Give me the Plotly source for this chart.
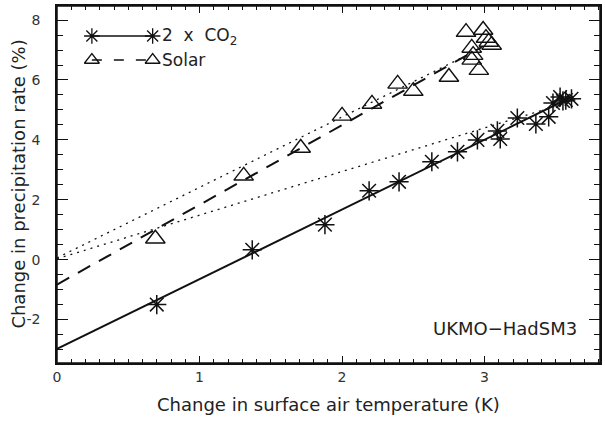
import plotly.graph_objects as go

# ---- data ----
co2_dT = [0.70, 1.37, 1.88, 2.19, 2.40, 2.63, 2.81, 2.95, 3.09, 3.11, 3.23, 3.36, 3.45, 3.48, 3.53, 3.57, 3.61, 3.55]
co2_dP = [-1.50, 0.33, 1.17, 2.30, 2.60, 3.27, 3.60, 4.00, 4.30, 4.03, 4.73, 4.53, 4.77, 5.23, 5.43, 5.33, 5.37, 5.30]

sol_dT = [0.69, 1.31, 1.71, 2.00, 2.21, 2.39, 2.50, 2.75, 2.87, 2.99, 3.01, 3.03, 3.05, 2.91, 2.92, 2.91, 2.96]
sol_dP = [0.70, 2.80, 3.73, 4.80, 5.20, 5.87, 5.63, 6.10, 7.60, 7.67, 7.40, 7.27, 7.17, 7.07, 6.83, 6.67, 6.33]

co2_fit_x = [0.0, 3.62]
co2_fit_y = [-2.98, 5.45]
sol_fit_x = [0.0, 2.98]
sol_fit_y = [-0.83, 7.10]
dot_hi_x = [0.0, 2.95]
dot_hi_y = [0.06, 7.00]
dot_lo_x = [0.0, 3.55]
dot_lo_y = [0.03, 5.20]

x_ticks = [0, 1, 2, 3]
y_ticks = [-2, 0, 2, 4, 6, 8]
y_ticktext = ["-2", "0", "2", "4", "6", "8"]

X_RANGE = [0, 3.81]
Y_RANGE = [-3.45, 8.47]

# ---- layout constants (pixels) ----
W, H = 605, 421
ML, MR, MT, MB = 57, 3, 6, 58
PW, PH = W - ML - MR, H - MT - MB


def px_to_x(px):
    return X_RANGE[0] + (px - ML) / PW * (X_RANGE[1] - X_RANGE[0])


def py_to_y(py):
    return Y_RANGE[1] - (py - MT) / PH * (Y_RANGE[1] - Y_RANGE[0])


FONT = "DejaVu Sans"
INK = "#111111"
TXT = "#222222"

fig = go.Figure()

fig.add_trace(go.Scatter(x=dot_hi_x, y=dot_hi_y, mode="lines",
                         line=dict(color=INK, width=1.3, dash="2px,5px"), showlegend=False))
fig.add_trace(go.Scatter(x=dot_lo_x, y=dot_lo_y, mode="lines",
                         line=dict(color=INK, width=1.3, dash="2px,5px"), showlegend=False))
fig.add_trace(go.Scatter(x=sol_fit_x, y=sol_fit_y, mode="lines",
                         line=dict(color=INK, width=2, dash="14px,10px"), showlegend=False))
fig.add_trace(go.Scatter(x=co2_fit_x, y=co2_fit_y, mode="lines",
                         line=dict(color=INK, width=2), showlegend=False))
fig.add_trace(go.Scatter(x=sol_dT, y=sol_dP, mode="markers",
                         marker=dict(symbol="triangle-up-open", size=17, color=INK,
                                     line=dict(color=INK, width=1.4)), showlegend=False))
fig.add_trace(go.Scatter(x=co2_dT, y=co2_dP, mode="markers",
                         marker=dict(symbol="asterisk-open", size=16, color=INK,
                                     line=dict(color=INK, width=1.5)), showlegend=False))

# ---- custom legend (sample line with a symbol at each end) ----
leg_px = [92, 153]
leg_x = [px_to_x(p) for p in leg_px]
row1, row2 = py_to_y(36), py_to_y(60)
fig.add_trace(go.Scatter(x=leg_x, y=[row1, row1], mode="lines+markers",
                         line=dict(color=INK, width=1.5),
                         marker=dict(symbol="asterisk-open", size=13, color=INK,
                                     line=dict(color=INK, width=1.3)), showlegend=False))
fig.add_trace(go.Scatter(x=leg_x, y=[row2, row2], mode="lines+markers",
                         line=dict(color=INK, width=1.5, dash="10px,12px"),
                         marker=dict(symbol="triangle-up-open", size=13, color=INK,
                                     line=dict(color=INK, width=1.3)), showlegend=False))

axis_common = dict(showline=True, linecolor=INK, linewidth=1.5, mirror="allticks",
                   ticks="inside", tickcolor=INK, showgrid=False, zeroline=False,
                   tickfont=dict(family=FONT, size=14, color="#333333"))

x_minor = dict(ticks="inside", dtick=0.1, ticklen=4, tickcolor=INK, tickwidth=1)
y_minor = dict(ticks="inside", dtick=0.5, ticklen=6, tickcolor=INK, tickwidth=1)

fig.update_layout(
    width=W, height=H,
    margin=dict(l=ML, r=MR, t=MT, b=MB),
    paper_bgcolor="white", plot_bgcolor="white",
    xaxis=dict(range=X_RANGE, tickvals=x_ticks, ticklen=7, tickwidth=1.2, minor=x_minor,
               ticklabelstandoff=0, **axis_common),
    yaxis=dict(range=Y_RANGE, tickvals=y_ticks, ticktext=y_ticktext, ticklen=11, tickwidth=1.2,
               minor=y_minor, ticklabelstandoff=12, **axis_common),
    shapes=[dict(type="rect", xref="paper", yref="paper", x0=0, x1=1, y0=0, y1=1,
                 line=dict(color=INK, width=1.5), layer="above")],
    annotations=[
        dict(text="Change in surface air temperature (K)", xref="paper", yref="paper",
             x=0.5, y=-0.115, xanchor="center", yanchor="middle", showarrow=False,
             font=dict(family=FONT, size=18, color=TXT)),
        dict(text="Change in precipitation rate (%)", xref="paper", yref="paper",
             x=-0.0716, y=0.5, xanchor="center", yanchor="middle", textangle=-90, showarrow=False,
             font=dict(family=FONT, size=18, color=TXT)),
        dict(text="UKMO\u2212HadSM3", xref="paper", yref="paper",
             x=0.825, y=0.097, xanchor="center", yanchor="middle", showarrow=False,
             font=dict(family=FONT, size=18, color=TXT)),
        dict(text="2&nbsp; x&nbsp; CO<sub>2</sub>", x=px_to_x(160), y=row1,
             xanchor="left", yanchor="middle", showarrow=False,
             font=dict(family=FONT, size=17, color=TXT)),
        dict(text="Solar", x=px_to_x(160), y=row2,
             xanchor="left", yanchor="middle", showarrow=False,
             font=dict(family=FONT, size=17, color=TXT)),
    ],
)

fig.write_html("out.html", config={"displayModeBar": False},
               post_script="document.body.style.margin='0px';document.body.style.overflow='hidden';")
